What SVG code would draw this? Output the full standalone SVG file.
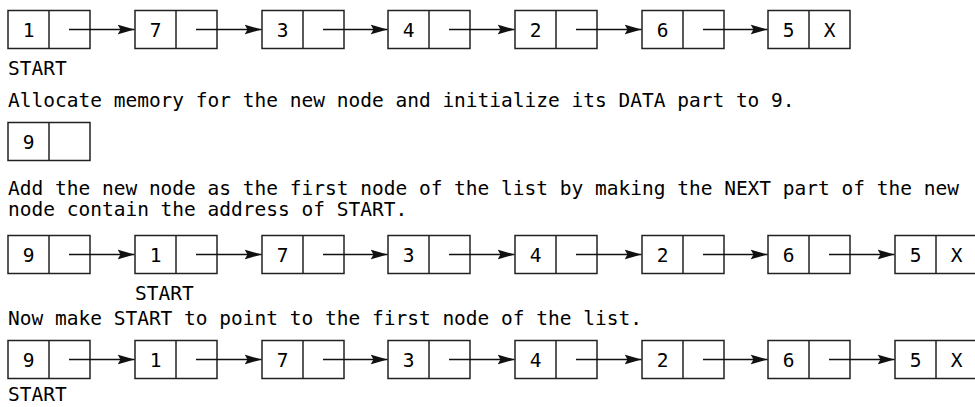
<svg xmlns="http://www.w3.org/2000/svg" width="975" height="407" viewBox="0 0 975 407">
<defs>
<style>
.box{fill:#fff;stroke:#222;stroke-width:1.5}
.div{stroke:#222;stroke-width:1.5}
.t{font-family:"DejaVu Sans Mono","Liberation Mono",monospace;font-size:19.5px;fill:#000}
.c{text-anchor:middle}
.arr{stroke:#111;stroke-width:1.3;fill:none;marker-end:url(#ah)}
</style>
<marker id="ah" markerUnits="userSpaceOnUse" viewBox="0 0 18 11" markerWidth="18" markerHeight="11" refX="17" refY="5.5" orient="auto">
<path d="M0,0.5 L17,5.5 L0,10.5 L3,5.5 Z" fill="#111"/>
</marker>
</defs>
<rect width="975" height="407" fill="#fff"/>

<!-- Row 1 -->
<g id="r1n1"><rect class="box" x="8" y="10.5" width="82" height="38"/><line class="div" x1="49" y1="10.5" x2="49" y2="48.5"/><text class="t c" x="28.5" y="36.5">1</text></g>
<g id="r1n2"><rect class="box" x="135" y="10.5" width="82" height="38"/><line class="div" x1="176" y1="10.5" x2="176" y2="48.5"/><text class="t c" x="155.5" y="36.5">7</text></g>
<g id="r1n3"><rect class="box" x="262" y="10.5" width="82" height="38"/><line class="div" x1="303" y1="10.5" x2="303" y2="48.5"/><text class="t c" x="282.5" y="36.5">3</text></g>
<g id="r1n4"><rect class="box" x="388" y="10.5" width="82" height="38"/><line class="div" x1="429" y1="10.5" x2="429" y2="48.5"/><text class="t c" x="408.5" y="36.5">4</text></g>
<g id="r1n5"><rect class="box" x="515" y="10.5" width="82" height="38"/><line class="div" x1="556" y1="10.5" x2="556" y2="48.5"/><text class="t c" x="535.5" y="36.5">2</text></g>
<g id="r1n6"><rect class="box" x="642" y="10.5" width="82" height="38"/><line class="div" x1="683" y1="10.5" x2="683" y2="48.5"/><text class="t c" x="662.5" y="36.5">6</text></g>
<g id="r1n7"><rect class="box" x="768" y="10.5" width="82" height="38"/><line class="div" x1="809" y1="10.5" x2="809" y2="48.5"/><text class="t c" x="788.5" y="36.5">5</text><text class="t c" x="829.5" y="36.5">X</text></g>
<text class="t" x="8" y="75">START</text>

<text class="t" x="8" y="107">Allocate memory for the new node and initialize its DATA part to 9.</text>

<!-- Row 2 -->
<g id="r2n1"><rect class="box" x="8" y="122.5" width="82" height="38"/><line class="div" x1="49" y1="122.5" x2="49" y2="160.5"/><text class="t c" x="28.5" y="148.5">9</text></g>

<text class="t" x="8" y="195">Add the new node as the first node of the list by making the NEXT part of the new</text>
<text class="t" x="8" y="216">node contain the address of START.</text>

<!-- Row 3 -->
<g id="r3n1"><rect class="box" x="8" y="235.5" width="82" height="38"/><line class="div" x1="49" y1="235.5" x2="49" y2="273.5"/><text class="t c" x="28.5" y="261.5">9</text></g>
<g id="r3n2"><rect class="box" x="135" y="235.5" width="82" height="38"/><line class="div" x1="176" y1="235.5" x2="176" y2="273.5"/><text class="t c" x="155.5" y="261.5">1</text></g>
<g id="r3n3"><rect class="box" x="262" y="235.5" width="82" height="38"/><line class="div" x1="303" y1="235.5" x2="303" y2="273.5"/><text class="t c" x="282.5" y="261.5">7</text></g>
<g id="r3n4"><rect class="box" x="388" y="235.5" width="82" height="38"/><line class="div" x1="429" y1="235.5" x2="429" y2="273.5"/><text class="t c" x="408.5" y="261.5">3</text></g>
<g id="r3n5"><rect class="box" x="515" y="235.5" width="82" height="38"/><line class="div" x1="556" y1="235.5" x2="556" y2="273.5"/><text class="t c" x="535.5" y="261.5">4</text></g>
<g id="r3n6"><rect class="box" x="642" y="235.5" width="82" height="38"/><line class="div" x1="683" y1="235.5" x2="683" y2="273.5"/><text class="t c" x="662.5" y="261.5">2</text></g>
<g id="r3n7"><rect class="box" x="768" y="235.5" width="82" height="38"/><line class="div" x1="809" y1="235.5" x2="809" y2="273.5"/><text class="t c" x="788.5" y="261.5">6</text></g>
<g id="r3n8"><rect class="box" x="895" y="235.5" width="82" height="38"/><line class="div" x1="936" y1="235.5" x2="936" y2="273.5"/><text class="t c" x="915.5" y="261.5">5</text><text class="t c" x="956.5" y="261.5">X</text></g>
<text class="t" x="135" y="300">START</text>

<text class="t" x="8" y="325">Now make START to point to the first node of the list.</text>

<!-- Row 4 -->
<g id="r4n1"><rect class="box" x="8" y="340.5" width="82" height="38"/><line class="div" x1="49" y1="340.5" x2="49" y2="378.5"/><text class="t c" x="28.5" y="366.5">9</text></g>
<g id="r4n2"><rect class="box" x="135" y="340.5" width="82" height="38"/><line class="div" x1="176" y1="340.5" x2="176" y2="378.5"/><text class="t c" x="155.5" y="366.5">1</text></g>
<g id="r4n3"><rect class="box" x="262" y="340.5" width="82" height="38"/><line class="div" x1="303" y1="340.5" x2="303" y2="378.5"/><text class="t c" x="282.5" y="366.5">7</text></g>
<g id="r4n4"><rect class="box" x="388" y="340.5" width="82" height="38"/><line class="div" x1="429" y1="340.5" x2="429" y2="378.5"/><text class="t c" x="408.5" y="366.5">3</text></g>
<g id="r4n5"><rect class="box" x="515" y="340.5" width="82" height="38"/><line class="div" x1="556" y1="340.5" x2="556" y2="378.5"/><text class="t c" x="535.5" y="366.5">4</text></g>
<g id="r4n6"><rect class="box" x="642" y="340.5" width="82" height="38"/><line class="div" x1="683" y1="340.5" x2="683" y2="378.5"/><text class="t c" x="662.5" y="366.5">2</text></g>
<g id="r4n7"><rect class="box" x="768" y="340.5" width="82" height="38"/><line class="div" x1="809" y1="340.5" x2="809" y2="378.5"/><text class="t c" x="788.5" y="366.5">6</text></g>
<g id="r4n8"><rect class="box" x="895" y="340.5" width="82" height="38"/><line class="div" x1="936" y1="340.5" x2="936" y2="378.5"/><text class="t c" x="915.5" y="366.5">5</text><text class="t c" x="956.5" y="366.5">X</text></g>
<text class="t" x="8" y="401">START</text>

<g id="connectors">
<line class="arr" x1="69" y1="29.5" x2="134.5" y2="29.5"/>
<line class="arr" x1="196" y1="29.5" x2="261.5" y2="29.5"/>
<line class="arr" x1="323" y1="29.5" x2="387.5" y2="29.5"/>
<line class="arr" x1="449" y1="29.5" x2="514.5" y2="29.5"/>
<line class="arr" x1="576" y1="29.5" x2="641.5" y2="29.5"/>
<line class="arr" x1="703" y1="29.5" x2="767.5" y2="29.5"/>

<line class="arr" x1="69" y1="254.5" x2="134.5" y2="254.5"/>
<line class="arr" x1="196" y1="254.5" x2="261.5" y2="254.5"/>
<line class="arr" x1="323" y1="254.5" x2="387.5" y2="254.5"/>
<line class="arr" x1="449" y1="254.5" x2="514.5" y2="254.5"/>
<line class="arr" x1="576" y1="254.5" x2="641.5" y2="254.5"/>
<line class="arr" x1="703" y1="254.5" x2="767.5" y2="254.5"/>
<line class="arr" x1="829" y1="254.5" x2="894.5" y2="254.5"/>

<line class="arr" x1="69" y1="359.5" x2="134.5" y2="359.5"/>
<line class="arr" x1="196" y1="359.5" x2="261.5" y2="359.5"/>
<line class="arr" x1="323" y1="359.5" x2="387.5" y2="359.5"/>
<line class="arr" x1="449" y1="359.5" x2="514.5" y2="359.5"/>
<line class="arr" x1="576" y1="359.5" x2="641.5" y2="359.5"/>
<line class="arr" x1="703" y1="359.5" x2="767.5" y2="359.5"/>
<line class="arr" x1="829" y1="359.5" x2="894.5" y2="359.5"/>
</g>
</svg>
